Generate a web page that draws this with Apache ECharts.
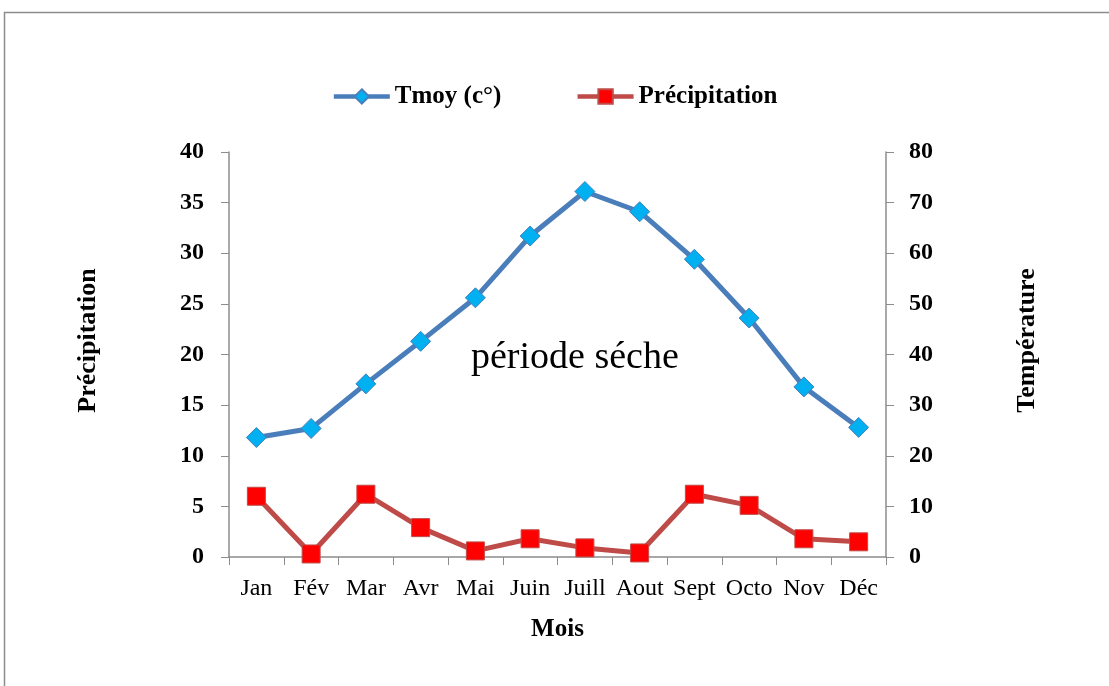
<!DOCTYPE html>
<html>
<head>
<meta charset="utf-8">
<script src="https://cdn.jsdelivr.net/npm/echarts@6/dist/echarts.min.js"></script>
<style>
  html, body { margin: 0; padding: 0; background: #fff; }
  #chart { width: 1109px; height: 686px; }
</style>
</head>
<body>
<div id="chart"></div>
<script>
// mois et valeurs
var mois = ['Jan', 'Fév', 'Mar', 'Avr', 'Mai', 'Juin', 'Juill', 'Aout', 'Sept', 'Octo', 'Nov', 'Déc'];
var tmoy = [11.8, 12.7, 17.1, 21.3, 25.6, 31.7, 36.1, 34.1, 29.4, 23.6, 16.8, 12.8];
var precipitation = [6.0, 0.3, 6.2, 2.9, 0.6, 1.8, 0.9, 0.4, 6.2, 5.1, 1.8, 1.5];

var serif = 'Liberation Serif, Times New Roman, serif';

var myChart = echarts.init(document.getElementById('chart'));

var option = {
  backgroundColor: '#fff',
  animation: false,
  textStyle: { fontFamily: serif },
  graphic: [
    {
      type: 'rect',
      shape: { x: 4.5, y: 12.5, width: 1200, height: 800 },
      style: { fill: 'none', stroke: '#8c8c8c', lineWidth: 1.5 }
    },
    {
      type: 'text',
      left: 471,
      top: 339,
      style: { text: 'période séche', font: '38px ' + serif, fill: '#000' }
    }
  ],
  legend: {
    top: 79,
    left: 'center',
    itemGap: 74,
    itemWidth: 56,
    itemHeight: 18,
    lineStyle: { width: 4.5 },
    textStyle: { fontFamily: serif, fontSize: 25, fontWeight: 'bold', color: '#000' },
    data: ['Tmoy (c°)', 'Précipitation']
  },
  grid: { left: 229, right: 223, top: 152, bottom: 129 },
  xAxis: {
    type: 'category',
    data: mois,
    boundaryGap: true,
    name: 'Mois',
    nameLocation: 'middle',
    nameGap: 60,
    nameTextStyle: { fontFamily: serif, fontSize: 25, fontWeight: 'bold', color: '#000' },
    axisLine: { lineStyle: { color: '#8c8c8c', width: 1.5 } },
    axisTick: { show: true, inside: false, length: 8, alignWithLabel: false, lineStyle: { color: '#8c8c8c' } },
    axisLabel: { margin: 20, fontFamily: serif, fontSize: 24, color: '#000', interval: 0 }
  },
  yAxis: [
    {
      type: 'value',
      min: 0, max: 40, interval: 5,
      name: 'Précipitation',
      nameLocation: 'middle',
      nameGap: 128,
      nameRotate: 90,
      nameTextStyle: { fontFamily: serif, fontSize: 26, fontWeight: 'bold', color: '#000', padding: [0, 0, 0, 28] },
      axisLine: { show: true, lineStyle: { color: '#8c8c8c', width: 1.5 } },
      axisTick: { show: true, length: 8, lineStyle: { color: '#8c8c8c' } },
      axisLabel: { margin: 25, fontFamily: serif, fontSize: 24, fontWeight: 'bold', color: '#000' },
      splitLine: { show: false }
    },
    {
      type: 'value',
      position: 'right',
      min: 0, max: 80, interval: 10,
      name: 'Température',
      nameLocation: 'middle',
      nameGap: 128,
      nameRotate: 90,
      nameTextStyle: { fontFamily: serif, fontSize: 26, fontWeight: 'bold', color: '#000', padding: [0, 0, 0, 28] },
      axisLine: { show: true, lineStyle: { color: '#8c8c8c', width: 1.5 } },
      axisTick: { show: true, length: 8, lineStyle: { color: '#8c8c8c' } },
      axisLabel: { margin: 23, fontFamily: serif, fontSize: 24, fontWeight: 'bold', color: '#000' },
      splitLine: { show: false }
    }
  ],
  series: [
    {
      name: 'Tmoy (c°)',
      type: 'line',
      yAxisIndex: 0,
      data: tmoy,
      symbol: 'diamond',
      symbolSize: 20,
      lineStyle: { color: '#4a7ebb', width: 5 },
      itemStyle: { color: '#00b0f0', borderColor: '#4a7ebb', borderWidth: 1 }
    },
    {
      name: 'Précipitation',
      type: 'line',
      yAxisIndex: 0,
      data: precipitation,
      symbol: 'rect',
      symbolSize: 18,
      lineStyle: { color: '#be4b48', width: 5 },
      itemStyle: { color: '#ff0000', borderColor: '#be4b48', borderWidth: 1 }
    }
  ]
};

myChart.setOption(option);
window.addEventListener('resize', function () {
  myChart.resize();
});
</script>
</body>
</html>
